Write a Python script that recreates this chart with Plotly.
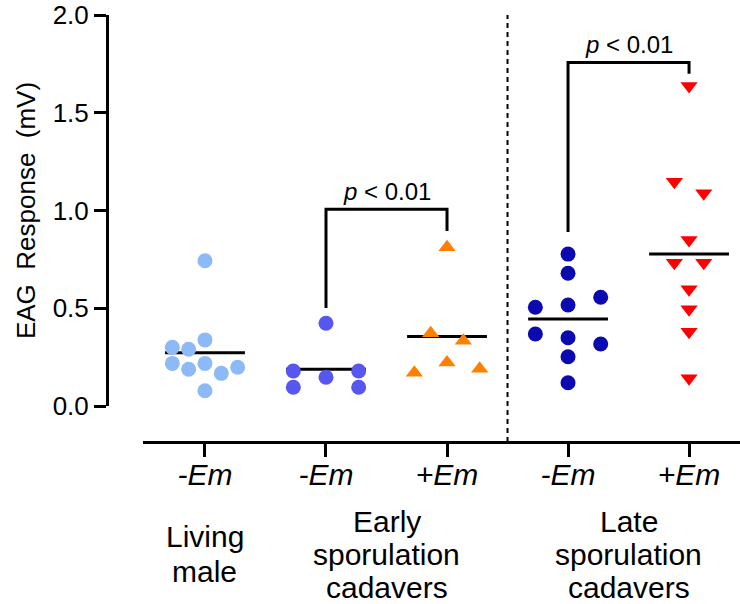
import plotly.graph_objects as go

# ---------------- data ----------------
categories = [0, 1, 2, 3, 4]
tick_labels = ["<i>-Em</i>", "<i>-Em</i>", "<i>+Em</i>", "<i>-Em</i>", "<i>+Em</i>"]
group_lines = [["Living", "male"],
               ["Early", "sporulation", "cadavers"],
               ["Late", "sporulation", "cadavers"]]
group_centers = [0, 1.5, 3.5]

living_male = [0.743, 0.338, 0.300, 0.290, 0.218, 0.188, 0.218, 0.167, 0.198, 0.078]
early_minus = [0.423, 0.179, 0.147, 0.179, 0.096, 0.096]
early_plus = [0.812, 0.372, 0.334, 0.222, 0.170, 0.191]
late_minus = [0.777, 0.679, 0.556, 0.505, 0.517, 0.368, 0.349, 0.317, 0.252, 0.119]
late_plus = [1.637, 1.147, 1.088, 0.849, 0.733, 0.733, 0.597, 0.495, 0.380, 0.142]
group_means = [0.273, 0.188, 0.355, 0.445, 0.777]

# horizontal scatter offsets (in marker steps)
living_off = [0, 0, -2, -1, -2, -1, 0, 1, 2, 0]
early_minus_off = [0, -2, 0, 2, -2, 2]
early_plus_off = [0, -1, 1, 0, -2, 2]
late_minus_off = [0, 0, 2, -2, 0, -2, 0, 2, 0, 0]
late_plus_off = [0, -0.9, 0.9, 0, -0.9, 0.9, 0, 0, 0, 0]

# significance brackets
bracket1_x = [1, 1, 2, 2]
bracket1_y = [0.501, 1.006, 1.006, 0.895]
bracket2_x = [3, 3, 4, 4]
bracket2_y = [0.890, 1.757, 1.757, 1.700]
p_label = "<i>p</i> &lt; 0.01"
p_pos = [(1.5, 1.096), (3.5, 1.847)]

# ---------------- style ----------------
FONT = "Liberation Sans, Arial, sans-serif"
STEP = 0.135
series = [
    (living_male, living_off, "#8DBAF6", "circle"),
    (early_minus, early_minus_off, "#5656F0", "circle"),
    (early_plus, early_plus_off, "#FF8000", "triangle-up"),
    (late_minus, late_minus_off, "#0A0AB0", "circle"),
    (late_plus, late_plus_off, "#FF0000", "triangle-down"),
]

FIG_W, FIG_H = 740, 604
PLOT_BOTTOM_PX = 442
PLOT_HEIGHT_PX = 427
line_centers_px = [[536, 571], [521, 554, 587], [521, 554, 587]]


def px_to_paper(py):
    return (PLOT_BOTTOM_PX - py) / PLOT_HEIGHT_PX


fig = go.Figure()

# mean lines (under markers)
for c, m in zip(categories, group_means):
    fig.add_trace(go.Scatter(x=[c - 0.33, c + 0.33], y=[m, m], mode="lines",
                             line=dict(color="black", width=3), cliponaxis=False,
                             hoverinfo="skip"))

# points
for c, (vals, offs, col, sym) in zip(categories, series):
    fig.add_trace(go.Scatter(x=[c + o * STEP for o in offs], y=vals, mode="markers",
                             marker=dict(color=col, size=15, symbol=sym, line=dict(width=0)),
                             cliponaxis=False))

# brackets
for bx, by in [(bracket1_x, bracket1_y), (bracket2_x, bracket2_y)]:
    fig.add_trace(go.Scatter(x=bx, y=by, mode="lines",
                             line=dict(color="black", width=3), cliponaxis=False,
                             hoverinfo="skip"))

for (px, py) in p_pos:
    fig.add_annotation(x=px, y=py, xref="x", yref="y", text=p_label, showarrow=False,
                       font=dict(family=FONT, size=24, color="black"),
                       xanchor="center", yanchor="middle")

for gx, lines, centers in zip(group_centers, group_lines, line_centers_px):
    for txt, cy in zip(lines, centers):
        fig.add_annotation(x=gx, y=px_to_paper(cy), xref="x", yref="paper", text=txt,
                           showarrow=False, font=dict(family=FONT, size=30, color="black"),
                           xanchor="center", yanchor="middle")

fig.add_shape(type="line", xref="x", yref="paper", x0=2.5, x1=2.5, y0=0, y1=1,
              line=dict(color="black", width=2, dash="5px,4px"))

fig.update_layout(
    width=FIG_W, height=FIG_H,
    margin=dict(l=107, r=0, t=15, b=FIG_H - PLOT_BOTTOM_PX, pad=0, autoexpand=False),
    paper_bgcolor="white", plot_bgcolor="white",
    showlegend=False,
    font=dict(family=FONT, size=26, color="black"),
    xaxis=dict(domain=[0.0569, 1], anchor="free", position=0, automargin=False,
               range=[-0.512, 4.421], tickmode="array", tickvals=categories,
               ticktext=tick_labels, ticks="outside", ticklen=13, tickwidth=3,
               tickcolor="black", showline=True, linewidth=3, linecolor="black",
               showgrid=False, zeroline=False, ticklabelstandoff=-8,
               tickfont=dict(family=FONT, size=30, color="black")),
    yaxis=dict(domain=[0.0843, 1], anchor="free", position=0, automargin=False,
               range=[0, 2.0], tickmode="array", tickvals=[0, 0.5, 1.0, 1.5, 2.0],
               ticktext=["0.0", "0.5", "1.0", "1.5", "2.0"], ticks="outside",
               ticklen=12, tickwidth=3, tickcolor="black", showline=True,
               linewidth=3, linecolor="black", showgrid=False, zeroline=False,
               tickfont=dict(family=FONT, size=26, color="black"),
               title=dict(text="EAG  Response  (mV)", standoff=8,
                          font=dict(family=FONT, size=26, color="black"))),
)

fig.write_html("out.html", config={"displayModeBar": False},
               post_script="document.body.style.margin='0';document.body.style.padding='0';")
